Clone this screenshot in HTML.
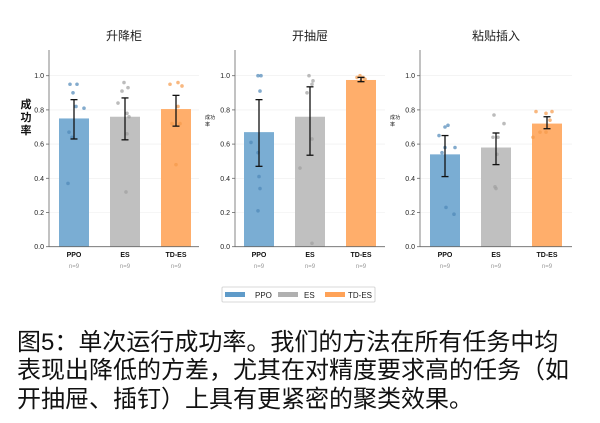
<!DOCTYPE html>
<html><head><meta charset="utf-8"><style>
body{margin:0;background:#fff;width:600px;height:423px;overflow:hidden;position:relative}
.cap{position:absolute;left:17px;font-family:"Liberation Sans","Noto Sans CJK SC",sans-serif;font-size:24px;color:#111;white-space:nowrap;line-height:28px}
</style></head><body>
<svg width="600" height="423" style="position:absolute;left:0;top:0" font-family="Liberation Sans, Noto Sans CJK SC, sans-serif">
<g id="charts"></g>
<rect x="222" y="287" width="153" height="15" fill="#fff" stroke="#ccc" stroke-width="0.8" rx="1"/>
<rect x="225" y="292" width="20" height="5" fill="#5f9bc9"/><text x="255" y="298" font-size="8" fill="#222">PPO</text>
<rect x="278" y="292" width="20" height="5" fill="#b0b0b0"/><text x="304" y="298" font-size="8" fill="#222">ES</text>
<rect x="325" y="292" width="20" height="5" fill="#ffa257"/><text x="348" y="298" font-size="8" fill="#222">TD-ES</text>
</svg>
<div class="cap" style="top:329px">图5：单次运行成功率。我们的方法在所有任务中均</div>
<div class="cap" style="top:357px">表现出降低的方差，尤其在对精度要求高的任务（如</div>
<div class="cap" style="top:386px">开抽屉、插钉）上具有更紧密的聚类效果。</div>
<script>
const y0=246.7,s=171;
const Y=v=>y0-s*v;
const cols=["#7aadd3","#c0c0c0","#ffae6b"],pc=["#4f88b8","#a0a0a0","#f59a4a"];
const panels=[
{ax:49,end:199,title:"升降柜",tx:124,bars:[59,110,161],
 d:[[.75,.63,.86,[[70,.95],[77,.95],[73,.9],[76,.82],[84,.81],[69,.67],[72,.64],[68,.37]]],
    [.76,.625,.87,[[124,.96],[128,.93],[122,.91],[118,.84],[127,.78],[129,.76],[127,.66],[126,.32]]],
    [.805,.705,.885,[[170,.95],[178,.96],[182,.94],[178,.82],[172,.72],[180,.72],[176,.48]]]]},
{ax:235,end:385,title:"开抽屉",tx:310,bars:[244,295,346],
 d:[[.67,.47,.86,[[258,1],[261,1],[260,.91],[251,.61],[258,.55],[259,.41],[260,.34],[258,.21]]],
    [.76,.535,.935,[[309,1],[313,.97],[312,.95],[307,.9],[312,.63],[300,.46],[312,.02]]],
    [.975,.965,.99,[[357,.99],[360,1],[363,.99],[365,.98],[361,.97]]]]},
{ax:420,end:572,title:"粘贴插入",tx:496,bars:[430,481,532],
 d:[[.54,.41,.65,[[448,.71],[445,.7],[439,.65],[445,.58],[455,.58],[442,.55],[446,.23],[454,.19]]],
    [.58,.48,.665,[[494,.77],[504,.72],[493,.64],[498,.64],[497,.54],[495,.35],[496,.34]]],
    [.72,.69,.76,[[536,.79],[552,.79],[546,.78],[550,.74],[540,.67],[546,.67],[533,.64]]]]}
];
let h="";
panels.forEach((p,pi)=>{
 h+=`<text x="${p.tx}" y="40" font-size="12" text-anchor="middle" fill="#222">${p.title}</text>`;
 for(let v=0.2;v<=1.01;v+=0.2)h+=`<line x1="${p.ax}" x2="${p.end}" y1="${Y(v)}" y2="${Y(v)}" stroke="#eee" stroke-width="0.6"/>`;
 p.d.forEach((b,i)=>{
  const x=p.bars[i];
  h+=`<rect x="${x}" y="${Y(b[0])}" width="30" height="${s*b[0]}" fill="${cols[i]}"/>`;
  b[3].forEach(q=>h+=`<circle cx="${q[0]}" cy="${Y(q[1])}" r="1.8" fill="${pc[i]}" opacity="0.7"/>`);
  const c=x+15;
  h+=`<line x1="${c}" x2="${c}" y1="${Y(b[2])}" y2="${Y(b[1])}" stroke="#111" stroke-width="1.3"/>`;
  h+=`<line x1="${c-3.5}" x2="${c+3.5}" y1="${Y(b[2])}" y2="${Y(b[2])}" stroke="#111" stroke-width="1.3"/>`;
  h+=`<line x1="${c-3.5}" x2="${c+3.5}" y1="${Y(b[1])}" y2="${Y(b[1])}" stroke="#111" stroke-width="1.3"/>`;
  h+=`<text x="${c}" y="257" font-size="7" font-weight="bold" text-anchor="middle" fill="#111">${["PPO","ES","TD-ES"][i]}</text>`;
  h+=`<text x="${c}" y="268" font-size="6" text-anchor="middle" fill="#999">n=9</text>`;
 });
 h+=`<line x1="${p.ax}" x2="${p.ax}" y1="50" y2="${y0}" stroke="#666" stroke-width="0.8"/>`;
 h+=`<line x1="${p.ax}" x2="${p.end}" y1="${y0}" y2="${y0}" stroke="#666" stroke-width="0.8"/>`;
 for(let k=0;k<=5;k++){const v=k*0.2;
  h+=`<line x1="${p.ax-3}" x2="${p.ax}" y1="${Y(v)}" y2="${Y(v)}" stroke="#666" stroke-width="0.8"/>`;
  h+=`<text x="${p.ax-5}" y="${Y(v)+2.5}" font-size="7" text-anchor="end" fill="#222">${v.toFixed(1)}</text>`;}
 if(pi==0){["成","功","率"].forEach((c,j)=>h+=`<text x="26" y="${108+j*13}" font-size="11" font-weight="bold" text-anchor="middle" fill="#111">${c}</text>`);}
 else{h+=`<text x="${p.ax-30}" y="119" font-size="5" fill="#111">成功</text><text x="${p.ax-30}" y="126" font-size="5" fill="#111">率</text>`;}
});
document.getElementById("charts").innerHTML=h;
</script>
</body></html>
